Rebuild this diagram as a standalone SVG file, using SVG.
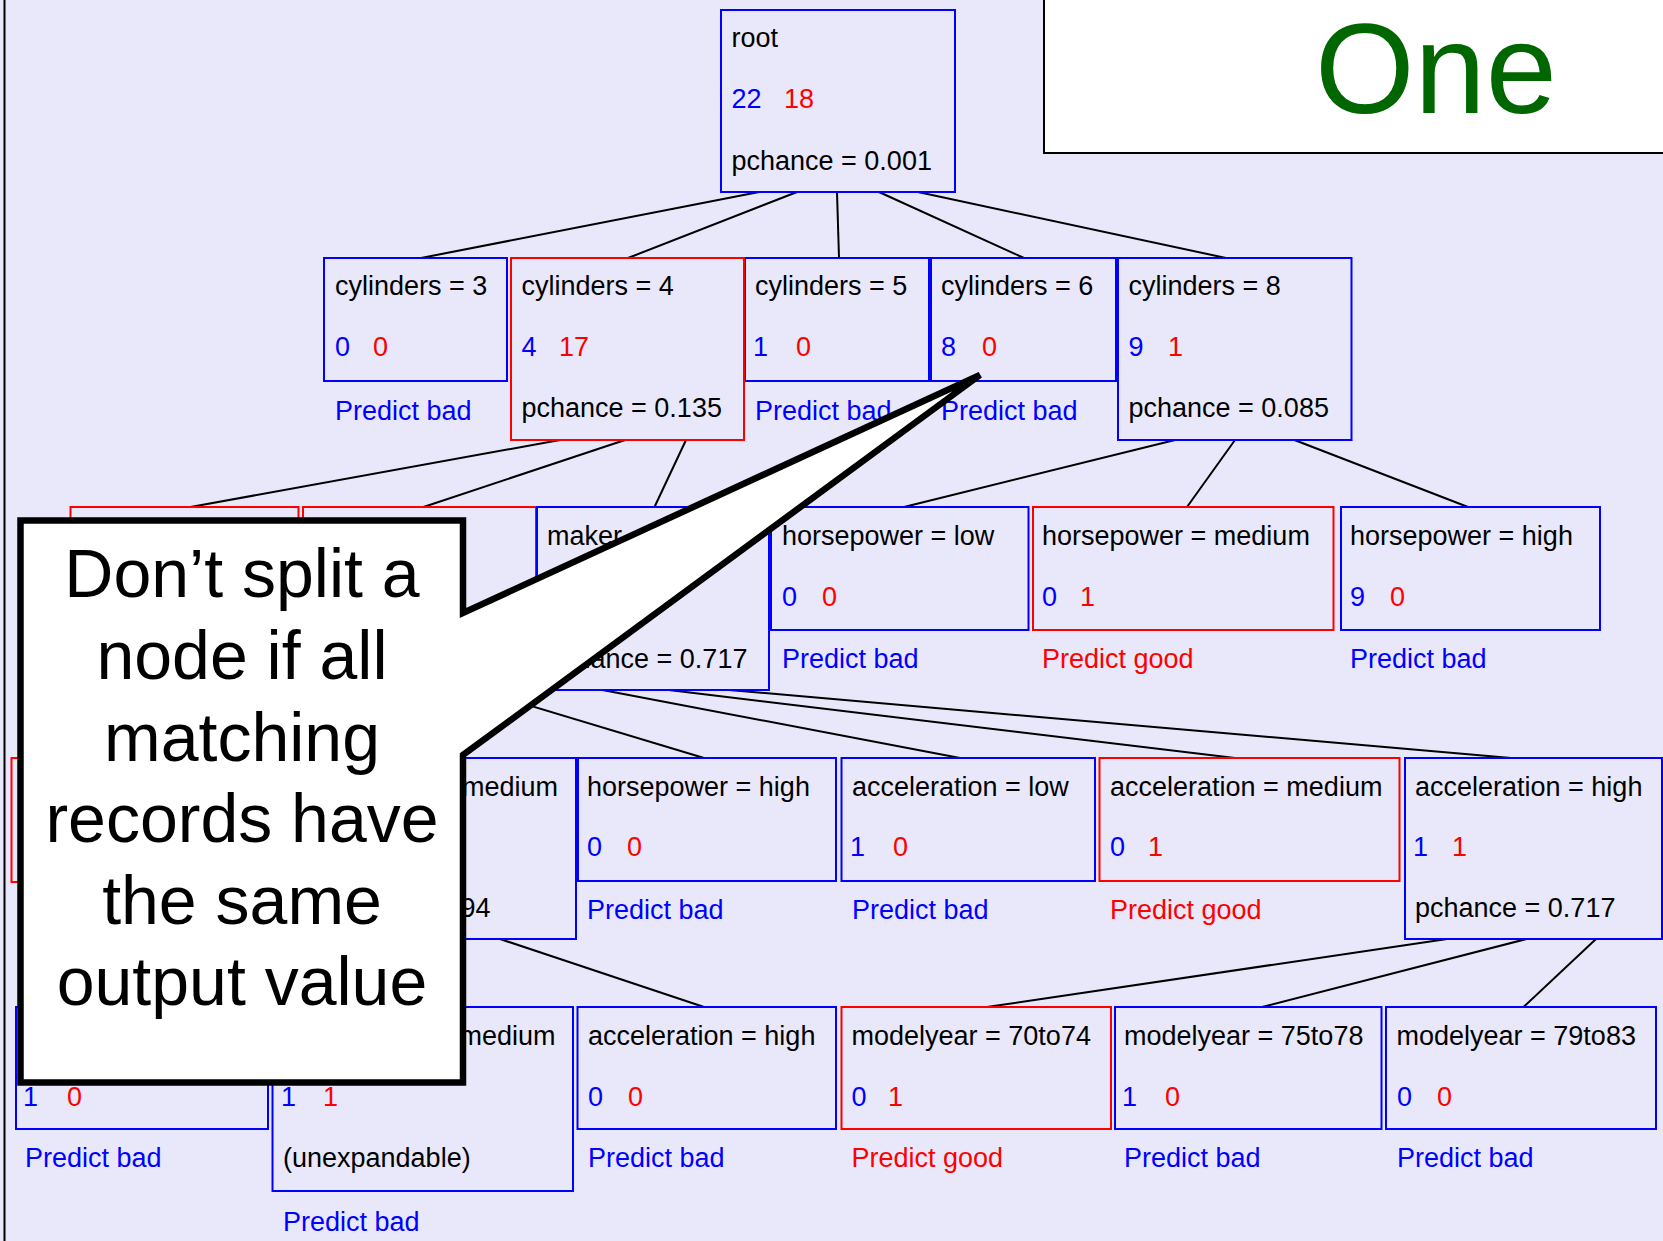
<svg xmlns="http://www.w3.org/2000/svg" width="1663" height="1241" viewBox="0 0 1663 1241">
<style>
.bx{fill:none;stroke-width:2}
.b{stroke:#0000FF}
.r{stroke:#FF0000}
.t{font-family:"Liberation Sans",Arial,sans-serif;font-size:27px;fill:#000}
.tb{fill:#0000FF}
.tr{fill:#FF0000}
.cn{stroke:#000;stroke-width:2;fill:none}
.co{font-family:"Liberation Sans",Arial,sans-serif;font-size:68px;fill:#000;text-anchor:middle}
</style>
<rect x="0" y="0" width="1663" height="1241" fill="#E8E8FA"/>
<line x1="4.5" y1="0" x2="4.5" y2="1241" stroke="#000" stroke-width="2"/>

<g id="connectors">
<line class="cn" x1="759" y1="192" x2="421" y2="258"/>
<line class="cn" x1="797" y1="192" x2="628" y2="258"/>
<line class="cn" x1="837" y1="192" x2="839" y2="258"/>
<line class="cn" x1="879" y1="192" x2="1024" y2="258"/>
<line class="cn" x1="918" y1="192" x2="1226" y2="258"/>
<line class="cn" x1="560" y1="440" x2="190.6" y2="507"/>
<line class="cn" x1="625" y1="440" x2="423.5" y2="507"/>
<line class="cn" x1="686" y1="440" x2="654.5" y2="507"/>
<line class="cn" x1="1175" y1="440" x2="904" y2="507"/>
<line class="cn" x1="1235" y1="440" x2="1187" y2="507"/>
<line class="cn" x1="1294.5" y1="440" x2="1468" y2="507"/>
<line class="cn" x1="478" y1="690" x2="704" y2="758"/>
<line class="cn" x1="602.5" y1="690" x2="960" y2="758"/>
<line class="cn" x1="669" y1="690" x2="1235" y2="758"/>
<line class="cn" x1="729" y1="690" x2="1511" y2="758"/>
<line class="cn" x1="500" y1="939" x2="704" y2="1007"/>
<line class="cn" x1="1447" y1="939" x2="987" y2="1007"/>
<line class="cn" x1="1526.5" y1="939" x2="1262" y2="1007"/>
<line class="cn" x1="1596" y1="939" x2="1523.5" y2="1007"/>
</g>

<g id="root">
<rect class="bx b" x="721" y="10" width="234" height="182"/>
<text class="t" x="731.5" y="47">root</text>
<text class="t tb" x="731.5" y="108">22</text>
<text class="t tr" x="784" y="108">18</text>
<text class="t" x="731.5" y="170">pchance = 0.001</text>
</g>

<g id="cyl3">
<rect class="bx b" x="324" y="258" width="183" height="123"/>
<text class="t" x="335" y="295">cylinders = 3</text>
<text class="t tb" x="335" y="356">0</text>
<text class="t tr" x="373" y="356">0</text>
<text class="t tb" x="335" y="420">Predict bad</text>
</g>
<g id="cyl5">
<rect class="bx b" x="745" y="258" width="184" height="123"/>
<text class="t" x="755" y="295">cylinders = 5</text>
<text class="t tb" x="753" y="356">1</text>
<text class="t tr" x="796" y="356">0</text>
<text class="t tb" x="755" y="420">Predict bad</text>
</g>
<g id="cyl4">
<rect class="bx r" x="511" y="258" width="233" height="182"/>
<text class="t" x="521.5" y="295">cylinders = 4</text>
<text class="t tb" x="521.5" y="356">4</text>
<text class="t tr" x="559" y="356">17</text>
<text class="t" x="521.5" y="417">pchance = 0.135</text>
</g>
<g id="cyl6">
<rect class="bx b" x="931" y="258" width="185" height="123"/>
<text class="t" x="941" y="295">cylinders = 6</text>
<text class="t tb" x="941" y="356">8</text>
<text class="t tr" x="982" y="356">0</text>
<text class="t tb" x="941" y="420">Predict bad</text>
</g>
<g id="cyl8">
<rect class="bx b" x="1118" y="258" width="233.5" height="182"/>
<text class="t" x="1128.5" y="295">cylinders = 8</text>
<text class="t tb" x="1128.5" y="356">9</text>
<text class="t tr" x="1168" y="356">1</text>
<text class="t" x="1128.5" y="417">pchance = 0.085</text>
</g>

<g id="maker_america">
<rect class="bx r" x="70.5" y="507" width="228" height="123"/>
</g>
<g id="maker_asia">
<rect class="bx r" x="303" y="507" width="233" height="183"/>
</g>
<g id="maker_europe">
<rect class="bx b" x="537" y="507" width="232" height="183"/>
<text class="t" x="547" y="545">maker</text>
<text class="t" x="547" y="668">pchance = 0.717</text>
</g>
<g id="hp_low">
<rect class="bx b" x="771" y="507" width="257.5" height="123"/>
<text class="t" x="782" y="545">horsepower = low</text>
<text class="t tb" x="782" y="606">0</text>
<text class="t tr" x="822" y="606">0</text>
<text class="t tb" x="782" y="668">Predict bad</text>
</g>
<g id="hp_medium">
<rect class="bx r" x="1033" y="507" width="300.5" height="123"/>
<text class="t" x="1042" y="545">horsepower = medium</text>
<text class="t tb" x="1042" y="606">0</text>
<text class="t tr" x="1080" y="606">1</text>
<text class="t tr" x="1042" y="668">Predict good</text>
</g>
<g id="hp_high">
<rect class="bx b" x="1341" y="507" width="259" height="123"/>
<text class="t" x="1350" y="545">horsepower = high</text>
<text class="t tb" x="1350" y="606">9</text>
<text class="t tr" x="1390" y="606">0</text>
<text class="t tb" x="1350" y="668">Predict bad</text>
</g>

<g id="hp_low_3">
<rect class="bx r" x="11.5" y="758" width="265" height="124"/>
</g>
<g id="hp_medium_3">
<rect class="bx b" x="280" y="758" width="296" height="181"/>
<text class="t" x="462" y="796">medium</text>
<text class="t" x="460.5" y="917">94</text>
</g>
<g id="hp_high_3">
<rect class="bx b" x="578" y="758" width="258" height="123"/>
<text class="t" x="587" y="796">horsepower = high</text>
<text class="t tb" x="587" y="856">0</text>
<text class="t tr" x="627" y="856">0</text>
<text class="t tb" x="587" y="919">Predict bad</text>
</g>
<g id="acc_low_3">
<rect class="bx b" x="841.5" y="758" width="253.5" height="123"/>
<text class="t" x="852" y="796">acceleration = low</text>
<text class="t tb" x="850" y="856">1</text>
<text class="t tr" x="893" y="856">0</text>
<text class="t tb" x="852" y="919">Predict bad</text>
</g>
<g id="acc_medium_3">
<rect class="bx r" x="1099.5" y="758" width="300" height="123"/>
<text class="t" x="1110" y="796">acceleration = medium</text>
<text class="t tb" x="1110" y="856">0</text>
<text class="t tr" x="1148" y="856">1</text>
<text class="t tr" x="1110" y="919">Predict good</text>
</g>
<g id="acc_high_3">
<rect class="bx b" x="1405" y="758" width="257" height="181"/>
<text class="t" x="1415" y="796">acceleration = high</text>
<text class="t tb" x="1413" y="856">1</text>
<text class="t tr" x="1452" y="856">1</text>
<text class="t" x="1415" y="917">pchance = 0.717</text>
</g>

<g id="acc_low_4">
<rect class="bx b" x="16" y="1007" width="252" height="122"/>
<text class="t tb" x="23" y="1106">1</text>
<text class="t tr" x="67" y="1106">0</text>
<text class="t tb" x="25" y="1167">Predict bad</text>
</g>
<g id="acc_medium_4">
<rect class="bx b" x="272.5" y="1007" width="300.5" height="184"/>
<text class="t" x="459.5" y="1045">medium</text>
<text class="t tb" x="281" y="1106">1</text>
<text class="t tr" x="323" y="1106">1</text>
<text class="t" x="283" y="1167">(unexpandable)</text>
<text class="t tb" x="283" y="1231">Predict bad</text>
</g>
<g id="acc_high_4">
<rect class="bx b" x="577.5" y="1007" width="258.5" height="122"/>
<text class="t" x="588" y="1045">acceleration = high</text>
<text class="t tb" x="588" y="1106">0</text>
<text class="t tr" x="628" y="1106">0</text>
<text class="t tb" x="588" y="1167">Predict bad</text>
</g>
<g id="my_70to74">
<rect class="bx r" x="841.5" y="1007" width="269.5" height="122"/>
<text class="t" x="851.5" y="1045">modelyear = 70to74</text>
<text class="t tb" x="851.5" y="1106">0</text>
<text class="t tr" x="888" y="1106">1</text>
<text class="t tr" x="851.5" y="1167">Predict good</text>
</g>
<g id="my_75to78">
<rect class="bx b" x="1115" y="1007" width="266.5" height="122"/>
<text class="t" x="1124" y="1045">modelyear = 75to78</text>
<text class="t tb" x="1122" y="1106">1</text>
<text class="t tr" x="1165" y="1106">0</text>
<text class="t tb" x="1124" y="1167">Predict bad</text>
</g>
<g id="my_79to83">
<rect class="bx b" x="1386" y="1007" width="270" height="122"/>
<text class="t" x="1396.5" y="1045">modelyear = 79to83</text>
<text class="t tb" x="1397" y="1106">0</text>
<text class="t tr" x="1437" y="1106">0</text>
<text class="t tb" x="1397" y="1167">Predict bad</text>
</g>

<g id="callout">
<polygon points="20.5,520.5 463,520.5 463,613 980,375 463,755 463,1082.5 20.5,1082.5" fill="#FFFFFF" stroke="#000" stroke-width="6.5" stroke-linejoin="miter" stroke-miterlimit="4"/>
<text class="co" x="242" y="596.5">Don’t split a</text>
<text class="co" x="242" y="678.5">node if all</text>
<text class="co" x="242" y="760.5">matching</text>
<text class="co" x="242" y="842">records have</text>
<text class="co" x="242" y="923.5">the same</text>
<text class="co" x="242" y="1005">output value</text>
</g>

<g id="title">
<rect x="1044" y="-10" width="640" height="163" fill="#FFFFFF" stroke="#000" stroke-width="2"/>
<text x="1315" y="113" font-family="Liberation Sans, Arial, sans-serif" font-size="128" fill="#006600">One</text>
</g>
</svg>
